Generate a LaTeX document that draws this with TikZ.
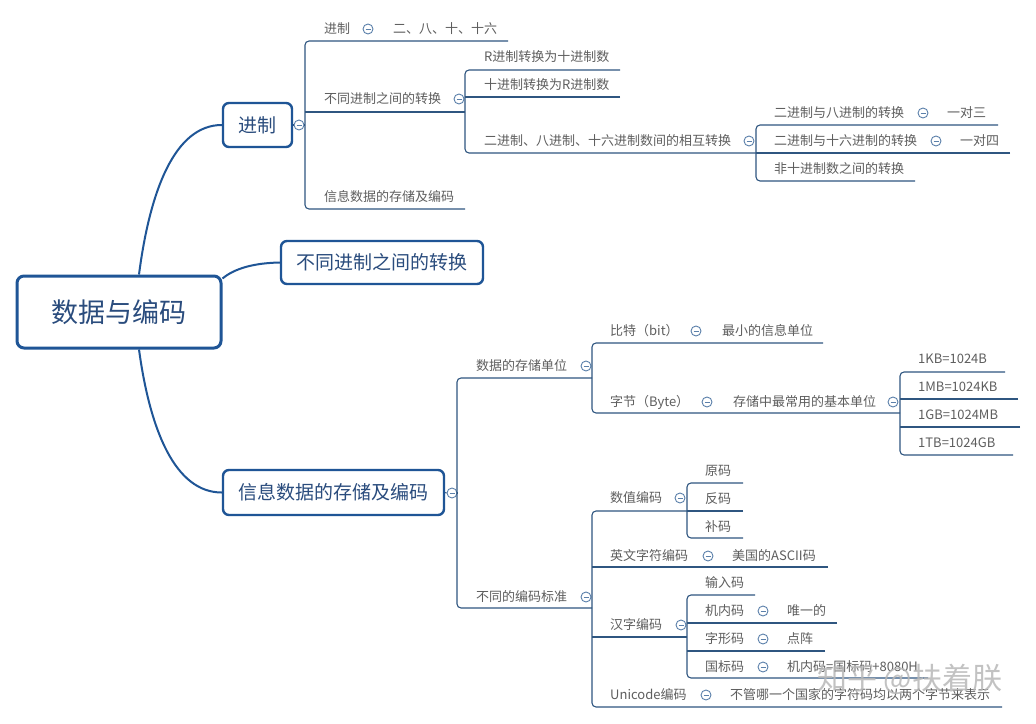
\documentclass[tikz,border=0pt]{standalone}
\usepackage{fontspec}
\setmainfont{Noto Sans CJK SC}
\definecolor{boxc}{HTML}{1F5596}
\definecolor{boxt}{HTML}{2A4C7D}
\definecolor{lnc}{HTML}{2F5680}
\definecolor{txt}{HTML}{5E5E5E}
\definecolor{mcc}{HTML}{5B80AA}
\begin{document}
\begin{tikzpicture}[x=1pt,y=-1pt,
 lbl/.style={anchor=west,inner sep=0,text=txt,font=\fontsize{13}{13}\selectfont,text height=11pt,text depth=1.5pt},
 topbox/.style={draw=boxc,line width=2.4pt,rounded corners=6pt,fill=white,text=boxt,inner sep=0,font=\fontsize{19}{19}\selectfont,text height=16pt,text depth=2pt},
 rootbox/.style={draw=boxc,line width=3pt,rounded corners=7pt,fill=white,text=boxt,inner sep=0,font=\fontsize{27}{27}\selectfont,text height=23pt,text depth=3pt,minimum width=204pt,minimum height=72pt},
 ln/.style={draw=lnc,line width=1.1pt},
 br/.style={ln,rounded corners=4pt},
 cv/.style={draw=boxc,line width=2pt},
 mc/.style={circle,draw=mcc,line width=0.9pt,minimum size=10pt,inner sep=0,fill=white,path picture={\draw[mcc,line width=0.9pt] ([xshift=-2.5pt]path picture bounding box.center) -- ([xshift=2.5pt]path picture bounding box.center);}},
 wmark/.style={anchor=west,inner sep=0,text=black!28,opacity=0.85,font=\fontsize{30}{30}\selectfont}
]
\fill[white] (0,0) rectangle (1036,723);
\useasboundingbox (0,0) rectangle (1036,723);

% main boxes
\node[rootbox] (root) at (119,312) {数据与编码};
\node[topbox,minimum width=69pt,minimum height=44pt] (jz) at (257.5,125) {进制};
\node[topbox,minimum width=202pt,minimum height=43pt] (zh) at (382,262.5) {不同进制之间的转换};
\node[topbox,minimum width=221pt,minimum height=45pt] (xx) at (333.5,492.5) {信息数据的存储及编码};

\draw[cv] ([xshift=20pt]root.north) .. controls (150,190) and (175,125) .. (jz.west);
\draw[cv] ([yshift=-4pt]root.north east) .. controls (235,268) and (255,263) .. (zh.west);
\draw[cv] ([xshift=20pt]root.south) .. controls (150,430) and (175,492.5) .. (xx.west);

% ---- level A (under 进制)
\coordinate (bA) at (305,209);
\node[mc] (mA) at (299,125) {};
\draw[ln] (jz.east) -- (mA.west);
\draw[ln] (mA.east) -- (mA.east -| bA);
\node[lbl] (a1) at (324,29) {进制};
\node[mc] (a1m) at (368,29) {};
\node[lbl] (a1v) at (393,29) {二、八、十、十六};
\coordinate (a1u) at (508,41);
\node[lbl] (a2) at (324,99) {不同进制之间的转换};
\node[mc] (a2m) at (459,99) {};
\coordinate (a2u) at (465,112);
\node[lbl] (a3) at (324,197) {信息数据的存储及编码};
\coordinate (a3u) at (465,209);
\draw[br] (a1u) -| (bA) -- (a3u);
\draw[ln] (a2u) -- (a2u -| bA);

% ---- level B
\coordinate (bB) at (465,153);
\node[lbl] (b1) at (484,57) {R进制转换为十进制数};
\coordinate (b1u) at (620,70);
\node[lbl] (b2) at (484,85) {十进制转换为R进制数};
\coordinate (b2u) at (620,97);
\node[lbl] (b3) at (484,141) {二进制、八进制、十六进制数间的相互转换};
\node[mc] (b3m) at (749,141) {};
\coordinate (b3u) at (756,153);
\draw[br] (b1u) -| (bB) -- (b3u);
\draw[ln] (b2u) -- (b2u -| bB);

% ---- level C
\coordinate (bC) at (756,181);
\node[lbl] (c1) at (774,113) {二进制与八进制的转换};
\node[mc] (c1m) at (923,113) {};
\node[lbl] (c1v) at (947,113) {一对三};
\coordinate (c1u) at (998,125);
\node[lbl] (c2) at (774,141) {二进制与十六进制的转换};
\node[mc] (c2m) at (936,141) {};
\node[lbl] (c2v) at (960,141) {一对四};
\coordinate (c2u) at (1010,153);
\node[lbl] (c3) at (774,169) {非十进制数之间的转换};
\coordinate (c3u) at (915,181);
\draw[br] (c1u) -| (bC) -- (c3u);
\draw[ln] (c2u) -- (b3u);

% ---- level D (under 信息数据的存储及编码)
\coordinate (bD) at (457,608);
\node[mc] (mD) at (452,493) {};
\draw[ln] (xx.east) -- (mD.west);
\draw[ln] (mD.east) -- (mD.east -| bD);
\node[lbl] (d1) at (476,366) {数据的存储单位};
\node[mc] (d1m) at (586,366) {};
\coordinate (d1u) at (592,378);
\node[lbl] (d2) at (476,597) {不同的编码标准};
\node[mc] (d2m) at (586,597) {};
\coordinate (d2u) at (592,608);
\draw[br] (d1u) -| (bD) -- (d2u);

% ---- level E
\coordinate (bE) at (592,413);
\node[lbl] (e1) at (610,331) {比特（bit）};
\node[mc] (e1m) at (696,331) {};
\node[lbl] (e1v) at (722,331) {最小的信息单位};
\coordinate (e1u) at (823,343);
\node[lbl] (e2) at (610,402) {字节（Byte）};
\node[mc] (e2m) at (707,402) {};
\node[lbl] (e2v) at (733,402) {存储中最常用的基本单位};
\node[mc] (e2n) at (893,402) {};
\coordinate (e2u) at (900,413);
\draw[br] (e1u) -| (bE) -- (e2u);

% ---- level F
\coordinate (bF) at (900,455);
\node[lbl] (f1) at (918,359) {1KB=1024B};
\coordinate (f1u) at (1005,372);
\node[lbl] (f2) at (918,387) {1MB=1024KB};
\coordinate (f2u) at (1018,399);
\node[lbl] (f3) at (918,415) {1GB=1024MB};
\coordinate (f3u) at (1020,427);
\node[lbl] (f4) at (918,443) {1TB=1024GB};
\coordinate (f4u) at (1013,455);
\draw[br] (f1u) -| (bF) -- (f4u);
\draw[ln] (f2u) -- (f2u -| bF);
\draw[ln] (f3u) -- (f3u -| bF);

% ---- level G
\coordinate (bG) at (592,707);
\node[lbl] (g1) at (610,498) {数值编码};
\node[mc] (g1m) at (680,498) {};
\coordinate (g1u) at (687,511);
\node[lbl] (g2) at (610,556) {英文字符编码};
\node[mc] (g2m) at (708,556) {};
\node[lbl] (g2v) at (732,556) {美国的ASCII码};
\coordinate (g2u) at (828,567);
\node[lbl] (g3) at (610,625) {汉字编码};
\node[mc] (g3m) at (681,625) {};
\coordinate (g3u) at (687,637);
\node[lbl] (g4) at (610,695) {Unicode编码};
\node[mc] (g4m) at (706,695) {};
\node[lbl] (g4v) at (730,695) {不管哪一个国家的字符码均以两个字节来表示};
\coordinate (g4u) at (1002,707);
\draw[br] (g1u) -| (bG) -- (g4u);
\draw[ln] (g2u) -- (g2u -| bG);
\draw[ln] (g3u) -- (g3u -| bG);

% ---- level H
\coordinate (bH) at (687,538);
\node[lbl] (h1) at (705,471) {原码};
\coordinate (h1u) at (743,483);
\node[lbl] (h2) at (705,499) {反码};
\coordinate (h2u) at (743,511);
\node[lbl] (h3) at (705,527) {补码};
\coordinate (h3u) at (743,538);
\draw[br] (h1u) -| (bH) -- (h3u);
\draw[ln] (h2u) -- (g1u);

% ---- level I
\coordinate (bI) at (687,678);
\node[lbl] (i1) at (705,583) {输入码};
\coordinate (i1u) at (755,595);
\node[lbl] (i2) at (705,611) {机内码};
\node[mc] (i2m) at (763,611) {};
\node[lbl] (i2v) at (787,611) {唯一的};
\coordinate (i2u) at (837,623);
\node[lbl] (i3) at (705,639) {字形码};
\node[mc] (i3m) at (763,639) {};
\node[lbl] (i3v) at (787,639) {点阵};
\coordinate (i3u) at (825,651);
\node[lbl] (i4) at (705,667) {国标码};
\node[mc] (i4m) at (763,667) {};
\node[lbl] (i4v) at (787,667) {机内码=国标码+8080H};
\coordinate (i4u) at (928,678);
\draw[br] (i1u) -| (bI) -- (i4u);
\draw[ln] (i2u) -- (i2u -| bI);
\draw[ln] (i3u) -- (i3u -| bI);

% watermark
\node[wmark] (wm) at (817,679) {知乎 @扶着朕};
\end{tikzpicture}
\end{document}
